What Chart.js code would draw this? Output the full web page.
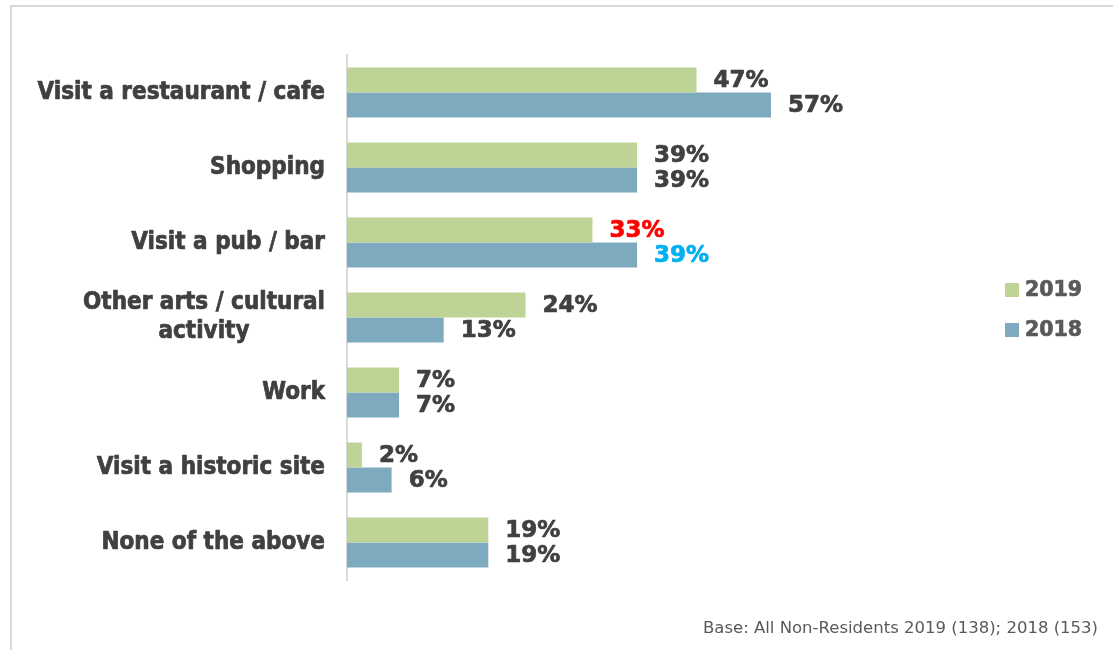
<!DOCTYPE html>
<html lang="en">
<head>
    <meta charset="UTF-8">
    <title>Activities in town</title>
    <script src="https://cdn.jsdelivr.net/npm/chart.js@4.4.3/dist/chart.umd.min.js"></script>
    <style>
        html, body { margin: 0; padding: 0; background: #fff; overflow: hidden; }
        #wrap { position: relative; width: 1113px; height: 650px; }
        #frame { position: absolute; left: 10px; top: 5px; right: -10px; bottom: -10px; border: 2px solid #d9d9d9; }
        #chart { position: absolute; left: 0; top: 0; }
        #base { position: absolute; right: 15px; top: 618px; font: 16.5px "DejaVu Sans", sans-serif; color: #595959; }
    </style>
</head>
<body>
    <div id="wrap">
        <div id="frame"></div>
        <canvas id="chart" width="1113" height="650"></canvas>
        <div id="base">Base: All Non-Residents 2019 (138); 2018 (153)</div>
    </div>

    <script>
        // Datos
        const categories = [
            'Visit a restaurant / cafe',
            'Shopping',
            'Visit a pub / bar',
            ['Other arts / cultural', 'activity'],
            'Work',
            'Visit a historic site',
            'None of the above'
        ];
        const seriesNames = ['2019', '2018'];
        const values2019 = [47, 39, 33, 24, 7, 2, 19];
        const values2018 = [57, 39, 39, 13, 7, 6, 19];

        // Estilos
        const colors = ['#bed396', '#7eaac0'];
        const textColor = '#404040';
        const legendColor = '#595959';
        const condFont = '"DejaVu Sans Condensed", "DejaVu Sans", sans-serif';
        const wideFont = '"DejaVu Sans", sans-serif';
        // colores especiales para algunas etiquetas (pub / bar)
        const labelColors = [
            [null, null, '#ff0000', null, null, null, null],
            [null, null, '#00b0f0', null, null, null, null]
        ];

        // texto en negrita con un trazo fino para darle más peso
        function heavyText(ctx, txt, x, y, color) {
            ctx.fillStyle = color;
            ctx.strokeStyle = color;
            ctx.lineWidth = 0.7;
            ctx.lineJoin = 'round';
            ctx.fillText(txt, x, y);
            ctx.strokeText(txt, x, y);
        }

        // Etiquetas de categoria a la izquierda del eje
        const categoryLabels = {
            id: 'categoryLabels',
            afterDraw(chart) {
                const ctx = chart.ctx;
                const y = chart.scales.y;
                const right = chart.chartArea.left - 22;
                const lineH = 29;
                ctx.save();
                ctx.font = 'bold 24px ' + condFont;
                ctx.textAlign = 'center';
                ctx.textBaseline = 'middle';
                chart.data.labels.forEach((lab, i) => {
                    const lines = Array.isArray(lab) ? lab : [lab];
                    const w = Math.max(...lines.map(l => ctx.measureText(l).width));
                    const cx = right - w / 2;
                    const cy = y.getPixelForValue(i);
                    lines.forEach((l, j) => {
                        heavyText(ctx, l, cx, cy + (j - (lines.length - 1) / 2) * lineH, textColor);
                    });
                });
                ctx.restore();
            }
        };

        // Valores al final de cada barra
        const valueLabels = {
            id: 'valueLabels',
            afterDatasetsDraw(chart) {
                const ctx = chart.ctx;
                ctx.save();
                ctx.font = 'bold 23px ' + wideFont;
                ctx.textAlign = 'left';
                ctx.textBaseline = 'middle';
                chart.data.datasets.forEach((ds, d) => {
                    chart.getDatasetMeta(d).data.forEach((bar, i) => {
                        heavyText(ctx, ds.data[i] + '%', bar.x + 17, bar.y + 1, labelColors[d][i] || textColor);
                    });
                });
                ctx.restore();
            }
        };

        // Leyenda a la derecha
        const sideLegend = {
            id: 'sideLegend',
            afterDraw(chart) {
                const ctx = chart.ctx;
                const x = 1005;
                const top = 283;
                ctx.save();
                ctx.font = 'bold 20.5px ' + wideFont;
                ctx.textAlign = 'left';
                ctx.textBaseline = 'middle';
                chart.data.datasets.forEach((ds, d) => {
                    const yy = top + d * 40;
                    ctx.fillStyle = ds.backgroundColor;
                    ctx.fillRect(x, yy, 14, 14);
                    heavyText(ctx, ds.label, x + 20, yy + 7.5, legendColor);
                });
                ctx.restore();
            }
        };

        new Chart(document.getElementById('chart'), {
            type: 'bar',
            data: {
                labels: categories,
                datasets: [
                    { label: seriesNames[0], data: values2019, backgroundColor: colors[0] },
                    { label: seriesNames[1], data: values2018, backgroundColor: colors[1] }
                ]
            },
            options: {
                indexAxis: 'y',
                responsive: false,
                animation: false,
                layout: { padding: { left: 347, right: 171, top: 55, bottom: 70 } },
                datasets: { bar: { barPercentage: 1, categoryPercentage: 0.667, borderWidth: 0 } },
                scales: {
                    x: { display: false, min: 0, max: 80 },
                    y: {
                        ticks: { display: false },
                        grid: { display: false, drawTicks: false },
                        border: { color: '#d9d9d9', width: 2 },
                        afterFit(scale) { scale.width = 0; }
                    }
                },
                plugins: {
                    legend: { display: false },
                    tooltip: { enabled: false }
                }
            },
            plugins: [categoryLabels, valueLabels, sideLegend]
        });
    </script>
</body>
</html>
